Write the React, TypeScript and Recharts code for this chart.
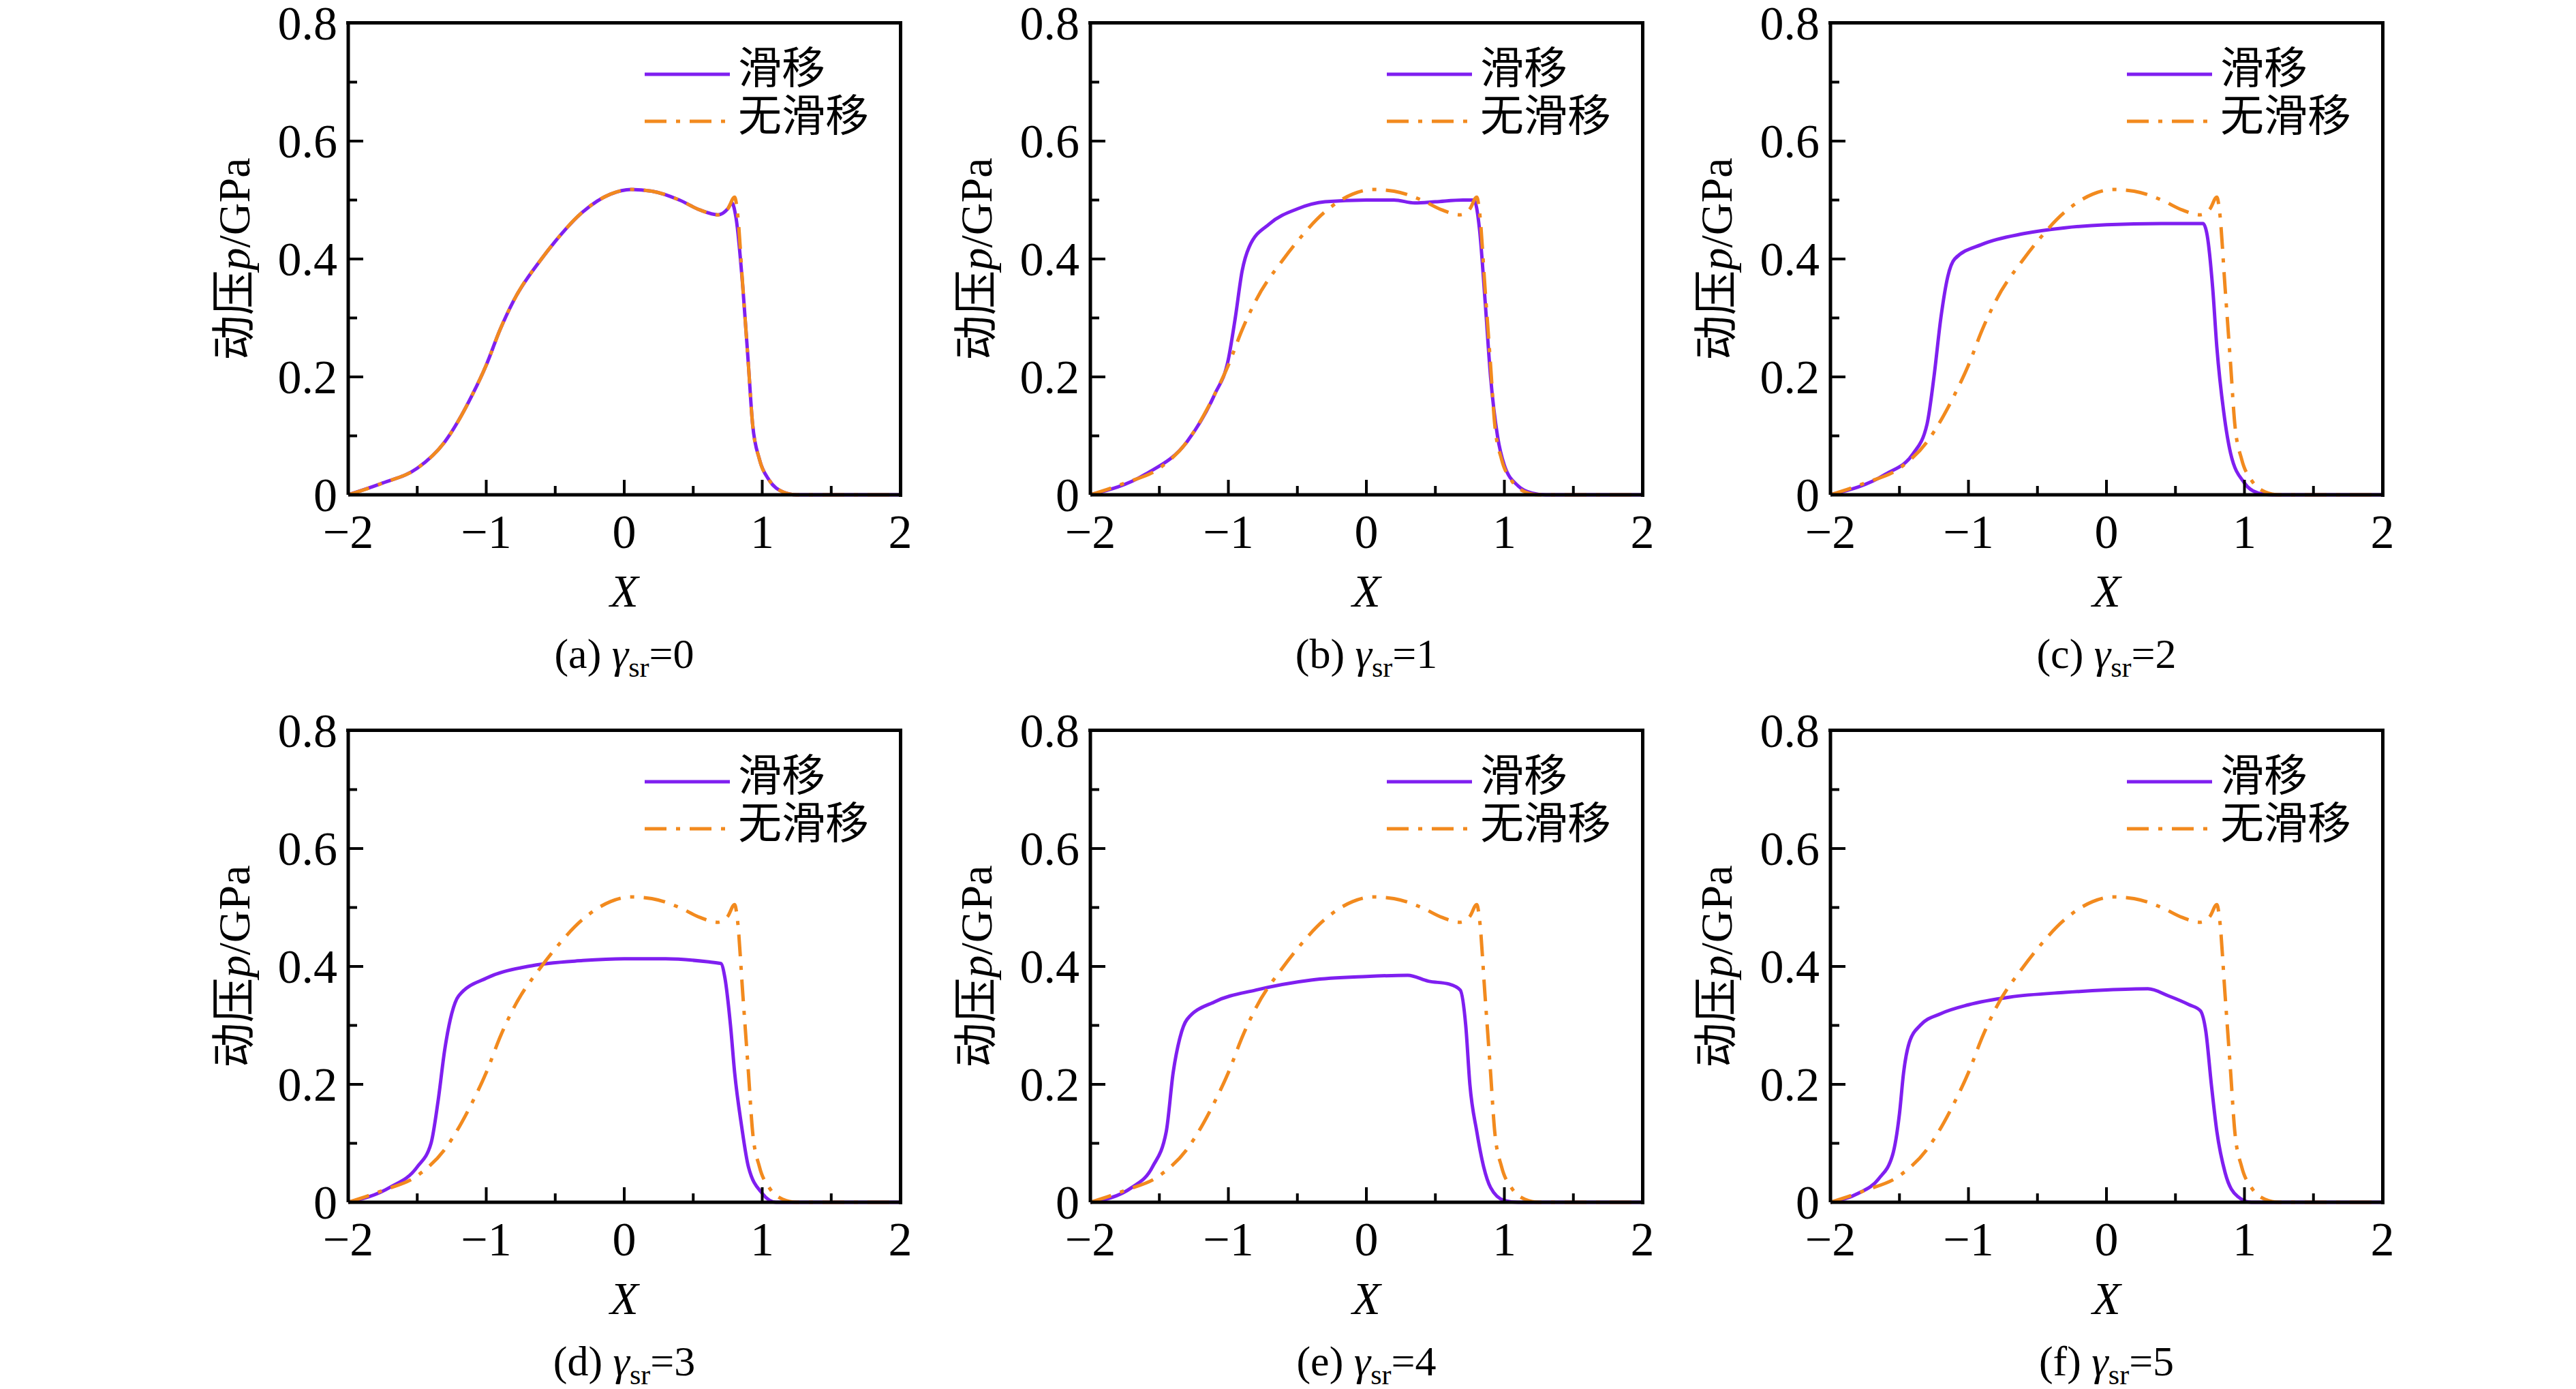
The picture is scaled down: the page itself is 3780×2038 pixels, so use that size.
import { LineChart, Line, XAxis, YAxis } from 'recharts'

const PURPLE = '#7f1ff0'
const ORANGE = '#f28a1e'
const FONT = '"Liberation Serif", "Noto Sans CJK SC", serif'

// 无滑移 (same in every panel)
const NS_X = [-2, -1.75, -1.5, -1.3, -1.1, -1.0, -0.9, -0.8, -0.6, -0.5, -0.3, -0.1, 0.05, 0.2, 0.4, 0.55, 0.68, 0.75, 0.8, 0.82, 0.86, 0.9, 0.93, 0.98, 1.05, 1.15, 1.25, 2]
const NS_P = [0, 0.02, 0.045, 0.09, 0.17, 0.22, 0.28, 0.33, 0.4, 0.43, 0.48, 0.51, 0.518, 0.515, 0.5, 0.483, 0.475, 0.485, 0.505, 0.48, 0.35, 0.22, 0.12, 0.06, 0.025, 0.005, 0, 0]

// 滑移, one per γsr
const SA_X = [-2, -1.75, -1.5, -1.3, -1.1, -1.0, -0.9, -0.8, -0.6, -0.5, -0.3, -0.1, 0.05, 0.2, 0.4, 0.55, 0.68, 0.75, 0.78, 0.81, 0.86, 0.9, 0.93, 0.98, 1.05, 1.15, 1.25, 2]
const SA_P = [0, 0.02, 0.045, 0.09, 0.17, 0.22, 0.28, 0.33, 0.4, 0.43, 0.48, 0.51, 0.518, 0.515, 0.5, 0.483, 0.475, 0.485, 0.495, 0.47, 0.35, 0.22, 0.12, 0.06, 0.025, 0.005, 0, 0]
const SB_X = [-2, -1.6, -1.3, -1.1, -1.0, -0.95, -0.9, -0.85, -0.7, -0.5, -0.3, 0, 0.2, 0.35, 0.5, 0.7, 0.78, 0.82, 0.86, 0.9, 0.95, 1.0, 1.1, 1.2, 1.3, 2]
const SB_P = [0, 0.035, 0.09, 0.17, 0.23, 0.3, 0.38, 0.42, 0.46, 0.485, 0.497, 0.5, 0.5, 0.495, 0.497, 0.5, 0.5, 0.45, 0.33, 0.2, 0.1, 0.05, 0.015, 0.003, 0, 0]
const SC_X = [-2, -1.6, -1.4, -1.3, -1.25, -1.2, -1.15, -1.1, -0.9, -0.6, -0.3, 0, 0.4, 0.7, 0.73, 0.77, 0.8, 0.85, 0.9, 1.0, 1.1, 1.2, 2]
const SC_P = [0, 0.035, 0.07, 0.12, 0.2, 0.3, 0.37, 0.4, 0.425, 0.443, 0.453, 0.458, 0.46, 0.46, 0.44, 0.35, 0.25, 0.14, 0.07, 0.02, 0.003, 0, 0]
const SD_X = [-2, -1.7, -1.5, -1.4, -1.35, -1.3, -1.25, -1.2, -1.0, -0.7, -0.3, 0, 0.3, 0.6, 0.7, 0.73, 0.77, 0.8, 0.85, 0.9, 1.0, 1.1, 2]
const SD_P = [0, 0.025, 0.06, 0.1, 0.17, 0.26, 0.32, 0.35, 0.38, 0.4, 0.41, 0.413, 0.413, 0.408, 0.405, 0.38, 0.3, 0.22, 0.13, 0.06, 0.015, 0, 0]
const SE_X = [-2, -1.7, -1.55, -1.45, -1.4, -1.35, -1.3, -1.1, -0.8, -0.4, 0, 0.3, 0.45, 0.6, 0.68, 0.72, 0.75, 0.8, 0.85, 0.9, 1.0, 1.1, 2]
const SE_P = [0, 0.025, 0.06, 0.12, 0.22, 0.28, 0.31, 0.34, 0.36, 0.377, 0.383, 0.385, 0.375, 0.37, 0.36, 0.3, 0.2, 0.12, 0.06, 0.025, 0.003, 0, 0]
const SF_X = [-2, -1.8, -1.65, -1.55, -1.5, -1.47, -1.43, -1.35, -1.2, -1.0, -0.7, -0.3, 0, 0.3, 0.45, 0.6, 0.68, 0.72, 0.76, 0.8, 0.86, 0.95, 1.05, 2]
const SF_P = [0, 0.015, 0.04, 0.08, 0.15, 0.22, 0.27, 0.3, 0.32, 0.335, 0.348, 0.356, 0.36, 0.362, 0.35, 0.335, 0.325, 0.29, 0.2, 0.12, 0.05, 0.01, 0, 0]

const PANELS = [
  { tag: 'a', g: '0', x: SA_X, p: SA_P },
  { tag: 'b', g: '1', x: SB_X, p: SB_P },
  { tag: 'c', g: '2', x: SC_X, p: SC_P },
  { tag: 'd', g: '3', x: SD_X, p: SD_P },
  { tag: 'e', g: '4', x: SE_X, p: SE_P },
  { tag: 'f', g: '5', x: SF_X, p: SF_P },
]

const X_TICKS = [-2, -1.5, -1, -0.5, 0, 0.5, 1, 1.5, 2]
const Y_TICKS = [0, 0.1, 0.2, 0.3, 0.4, 0.5, 0.6, 0.7, 0.8]
const COL_LEFT = [511, 1600, 2686]
const ROW_TOP = [34, 1072]
const PW = 810
const PH = 692
const YW = 300
const MT = 30
const XH = 300

const zip = (xs: number[], ps: number[]) => xs.map((x, i) => ({ x, p: ps[i] }))
const fmtX = (v: number) => (v < 0 ? '\u2212' + Math.abs(v) : String(v))

function XTick(props: any) {
  const { x, y, payload } = props
  const major = Number.isInteger(payload.value)
  return (
    <g>
      <line x1={x} x2={x} y1={y} y2={y - (major ? 22 : 13)} stroke="#000" strokeWidth={4} />
      {major && (
        <text x={x} y={y + 78} textAnchor="middle" fontSize={70} fontFamily={FONT} fill="#000">
          {fmtX(payload.value)}
        </text>
      )}
    </g>
  )
}

function YTick(props: any) {
  const { x, y, payload } = props
  const major = Math.round(payload.value * 10) % 2 === 0
  return (
    <g>
      <line x1={x} x2={x + (major ? 22 : 13)} y1={y} y2={y} stroke="#000" strokeWidth={4} />
      {major && (
        <text x={x - 16} y={y + 24} textAnchor="end" fontSize={70} fontFamily={FONT} fill="#000">
          {payload.value === 0 ? '0' : payload.value.toFixed(1)}
        </text>
      )}
    </g>
  )
}

function Panel({ i }: { i: number }) {
  const pn = PANELS[i]
  const left = COL_LEFT[i % 3]
  const top = ROW_TOP[Math.floor(i / 3)]
  const slip = zip(pn.x, pn.p)
  const noSlip = zip(NS_X, NS_P)
  return (
    <>
      <div style={{ position: 'absolute', left: left - YW, top: top - MT }}>
        <LineChart width={YW + PW + 40} height={MT + PH + XH} margin={{ top: MT, right: 40, bottom: 0, left: 0 }}>
          <XAxis dataKey="x" type="number" domain={[-2, 2]} ticks={X_TICKS} interval={0} height={XH}
            tickSize={0} tickMargin={0} tick={<XTick />} axisLine={{ stroke: '#000', strokeWidth: 5 }} allowDuplicatedCategory={false} />
          <YAxis type="number" domain={[0, 0.8]} ticks={Y_TICKS} interval={0} width={YW}
            tickSize={0} tickMargin={0} tick={<YTick />} axisLine={{ stroke: '#000', strokeWidth: 5 }} />
          <Line data={slip} dataKey="p" type="monotone" stroke={PURPLE} strokeWidth={5}
            dot={false} isAnimationActive={false} />
          <Line data={noSlip} dataKey="p" type="monotone" stroke={ORANGE} strokeWidth={5}
            strokeDasharray="32 14 6 14" dot={false} isAnimationActive={false} />
        </LineChart>
      </div>
      {/* frame top/right */}
      <svg style={{ position: 'absolute', left: left - 3, top: top - 3, pointerEvents: 'none' }} width={PW + 6} height={PH + 6}>
        <polyline points={`0,2.5 ${PW + 3.5},2.5 ${PW + 3.5},${PH + 6}`} fill="none" stroke="#000" strokeWidth={5} />
      </svg>
      {/* legend */}
      <svg style={{ position: 'absolute', left: left + 435, top: top + 30 }} width={130} height={130}>
        <line x1={0} x2={125} y1={45} y2={45} stroke={PURPLE} strokeWidth={5} />
        <line x1={0} x2={125} y1={114} y2={114} stroke={ORANGE} strokeWidth={5} strokeDasharray="32 14 6 14" />
      </svg>
      <div style={{ position: 'absolute', left: left + 572, top: top + 32, fontFamily: FONT, fontSize: 64, lineHeight: '70px' }}>
        <div>滑移</div>
        <div>无滑移</div>
      </div>
      {/* y label */}
      <div style={{ position: 'absolute', left: left - 175 - 200, top: top + PH / 2 - 150, width: 400, height: 300,
        display: 'flex', alignItems: 'center', justifyContent: 'center' }}>
        <div style={{ transform: 'rotate(-90deg)', whiteSpace: 'nowrap', fontFamily: FONT, fontSize: 66 }}>
          动压<i>p</i>/GPa
        </div>
      </div>
      {/* x label and caption */}
      <div style={{ position: 'absolute', left, width: PW, top: top + PH + 102, textAlign: 'center', fontFamily: FONT, fontSize: 68 }}>
        <i>X</i>
      </div>
      <div style={{ position: 'absolute', left, width: PW, top: top + PH + 198, textAlign: 'center', fontFamily: FONT, fontSize: 62 }}>
        ({pn.tag}) <i>γ</i><sub style={{ fontSize: 42 }}>sr</sub>={pn.g}
      </div>
    </>
  )
}

export default function App() {
  return (
    <div style={{ position: 'absolute', left: 0, top: 0, width: 3780, height: 2038, background: '#fff' }}>
      {PANELS.map((_, i) => <Panel key={i} i={i} />)}
    </div>
  )
}
